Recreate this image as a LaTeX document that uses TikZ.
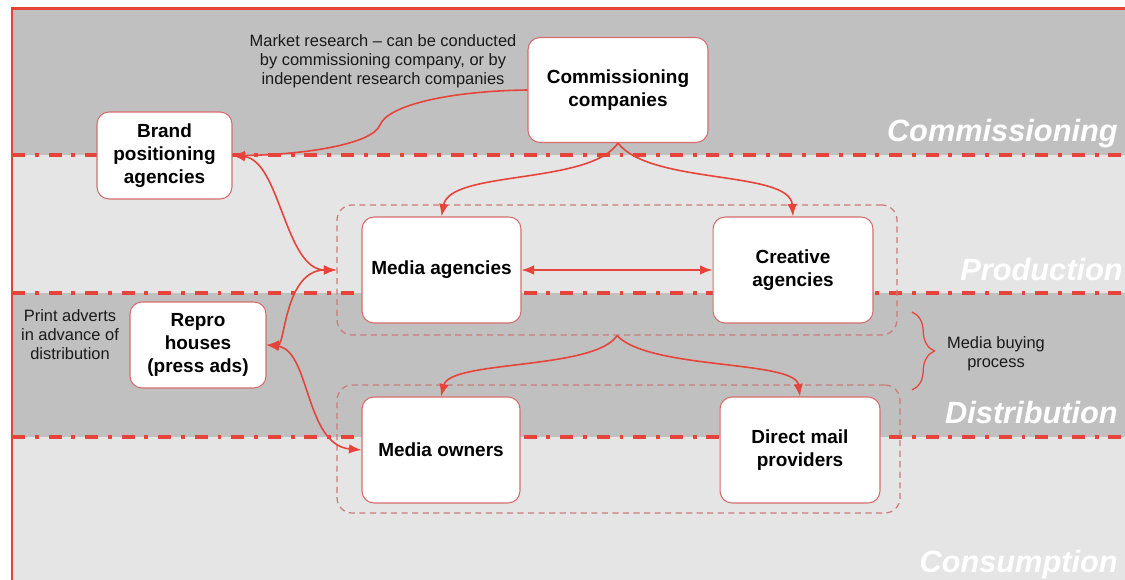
\documentclass[tikz,border=0pt]{standalone}
\usepackage{fontspec}
\setmainfont{Liberation Sans}
\usetikzlibrary{arrows.meta, decorations.pathreplacing}

\definecolor{chainred}{RGB}{230,68,58}
\definecolor{boxline}{RGB}{214,108,108}
\definecolor{grpline}{RGB}{204,122,122}
\definecolor{banddark}{RGB}{192,192,192}
\definecolor{bandlight}{RGB}{229,229,229}
\definecolor{notegray}{RGB}{26,26,26}

\tikzset{
  box/.style={draw=boxline, line width=0.6pt, fill=white, rounded corners=0.24cm,
    align=center, inner sep=0pt, font=\bfseries\fontsize{10.8}{13}\selectfont},
  grp/.style={draw=grpline, line width=0.7pt, dash pattern=on 3.5pt off 2.5pt,
    rounded corners=0.3cm, inner sep=0pt},
  link/.style={draw=chainred, line width=0.9pt},
  divider/.style={chainred, line width=2.3pt, dash pattern=on 7.4pt off 5.6pt on 2.2pt off 5.6pt},
  lane/.style={anchor=base east, inner sep=0pt, text=white, font=\bfseries\itshape\fontsize{17.5}{20}\selectfont},
  note/.style={text=notegray, align=center, font=\fontsize{9.35}{10.8}\selectfont},
  >={Latex[length=2.5mm,width=1.9mm]}
}

\begin{document}
\begin{tikzpicture}[x=0.02cm, y=-0.02cm]
    \useasboundingbox (0,0) rectangle (1125,580);

    \fill[banddark] (12,9) rectangle (1125,155);
    \fill[bandlight] (12,155) rectangle (1125,293);
    \fill[banddark] (12,293) rectangle (1125,437);
    \fill[bandlight] (12,437) rectangle (1125,580);

    \draw[divider] (12,155) -- (1125,155);
    \draw[divider] (12,293) -- (1125,293);
    \draw[divider] (12,437) -- (1125,437);
    \draw[chainred, line width=1.7pt] (12,580) -- (12,9) -- (1125,9);

    \node[lane] at (1118,142) {Commissioning};
    \node[lane] at (1123,281) {Production};
    \node[lane] at (1118,423) {Distribution};
    \node[lane] at (1118,572) {Consumption};

    \node[grp, minimum width=11.2cm, minimum height=2.6cm] (prod) at (617,270) {};
    \node[grp, minimum width=11.26cm, minimum height=2.56cm] (dist) at (618.5,449) {};

    \node[box, minimum width=3.6cm, minimum height=2.1cm] (comm) at (618,90) {Commissioning\\companies};
    \node[box, minimum width=2.7cm, minimum height=1.74cm] (brand) at (164.5,155.5) {Brand\\positioning\\agencies};
    \node[box, minimum width=3.18cm, minimum height=2.12cm] (media) at (441.5,270) {Media agencies};
    \node[box, minimum width=3.2cm, minimum height=2.12cm] (creative) at (793,270) {Creative\\agencies};
    \node[box, minimum width=2.72cm, minimum height=1.72cm] (repro) at (198,345) {Repro\\houses\\(press ads)};
    \node[box, minimum width=3.16cm, minimum height=2.12cm] (owners) at (441,450) {Media owners};
    \node[box, minimum width=3.2cm, minimum height=2.12cm] (mail) at (800,450) {Direct mail\\providers};

    \node[note] (research) at (383,61) {Market research -- can be conducted\\by commissioning company, or by\\independent research companies};
    \node[note] (print) at (70,335) {Print adverts\\in advance of\\distribution};
    \node[note] (buying) at (996,354) {Media buying\\process};

    \draw[link, ->] (comm.west) .. controls (450,91) and (388,105) .. (380,125)
        .. controls (372,145) and (300,155) .. (brand.east);
    \draw[link, ->] (comm.south) .. controls (590,185) and (450,170) .. (media.north);
    \draw[link, ->] (comm.south) .. controls (650,185) and (790,170) .. (creative.north);
    \draw[link, <->] (brand.east) .. controls (280,160) and (285,270) .. (prod.west);
    \draw[link, <->] (prod.west) .. controls (285,270) and (285,345) .. (repro.east);
    \draw[link, <->] (repro.east) .. controls (310,350) and (305,445) .. (owners.west);
    \draw[link, <->] (media.east) -- (creative.west);
    \draw[link, ->] (prod.south) .. controls (595,370) and (450,360) .. (owners.north);
    \draw[link, ->] (prod.south) .. controls (650,370) and (795,360) .. (mail.north);

    \draw[chainred, line width=0.7pt, decorate, decoration={brace, amplitude=0.45cm}] (912,312) -- (912,390);
\end{tikzpicture}
\end{document}
